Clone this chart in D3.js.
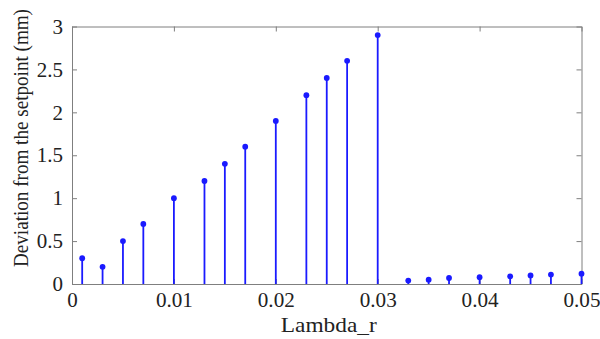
<!DOCTYPE html>
<html>
<head>
<meta charset="utf-8">
<script src="https://cdn.jsdelivr.net/npm/d3@7"></script>
</head>
<body style="margin:0">
<script>
// stem data
const lambdaR = [0.001, 0.003, 0.005, 0.007, 0.010, 0.013, 0.015, 0.017, 0.020, 0.023, 0.025,
                 0.027, 0.030, 0.033, 0.035, 0.037, 0.040, 0.043, 0.045, 0.047, 0.050];
const deviation = [0.3, 0.2, 0.5, 0.7, 1.0, 1.2, 1.4, 1.6, 1.9, 2.2, 2.4,
                   2.6, 2.9, 0.04, 0.05, 0.07, 0.08, 0.09, 0.10, 0.11, 0.12];
const xTicks = [0, 0.01, 0.02, 0.03, 0.04, 0.05];
const yTicks = [0, 0.5, 1, 1.5, 2, 2.5, 3];

const width = 600, height = 339;
const margin = { top: 26.5, right: 18.5, bottom: 55, left: 72 };
const w = width - margin.left - margin.right;
const h = height - margin.top - margin.bottom;
const fontName = "Liberation Serif";
const textColor = "#222";

const svg = d3.select("body").append("svg")
    .attr("width", width).attr("height", height);

const g = svg.append("g").attr("transform", "translate(" + margin.left + "," + margin.top + ")");

const x = d3.scaleLinear().domain([0, 0.05]).range([0, w]);
const y = d3.scaleLinear().domain([0, 3]).range([h, 0]);

const axisColor = "#7f7f7f";
const fmt = d => d === 0 ? "0" : String(d);

// bottom / left axes with inward ticks, plain ticks on top / right for the box
const xAxis = d3.axisBottom(x).tickValues(xTicks).tickFormat(fmt).tickSizeInner(-5).tickSizeOuter(0).tickPadding(8);
const yAxis = d3.axisLeft(y).tickValues(yTicks).tickFormat(fmt).tickSizeInner(-5).tickSizeOuter(0).tickPadding(9);
const xTop = d3.axisTop(x).tickValues(xTicks).tickFormat("").tickSizeInner(-5).tickSizeOuter(0);
const yRight = d3.axisRight(y).tickValues(yTicks).tickFormat("").tickSizeInner(-5).tickSizeOuter(0);

const gx = g.append("g").attr("transform", "translate(0," + h + ")").call(xAxis);
const gy = g.append("g").call(yAxis);
const gt = g.append("g").call(xTop);
const gr = g.append("g").attr("transform", "translate(" + w + ",0)").call(yRight);

[gx, gy, gt, gr].forEach(a => {
    a.attr("font-family", fontName).attr("font-size", 21);
    a.selectAll("path, line").attr("stroke", axisColor);
    a.selectAll("text").attr("fill", textColor);
});
gx.selectAll("text").attr("textLength", d => d === 0 ? null : 37).attr("lengthAdjust", "spacingAndGlyphs");

// stems
const blue = "#1a1aff";
const data = lambdaR.map((v, i) => ({ x: v, y: deviation[i] }));

g.selectAll(".stem").data(data).enter().append("line")
    .attr("class", "stem")
    .attr("x1", d => x(d.x)).attr("x2", d => x(d.x))
    .attr("y1", y(0)).attr("y2", d => y(d.y))
    .attr("stroke", blue).attr("stroke-width", 1.8);

g.selectAll(".dot").data(data).enter().append("circle")
    .attr("class", "dot")
    .attr("cx", d => x(d.x)).attr("cy", d => y(d.y))
    .attr("r", 2.9).attr("fill", blue);

// axis labels
svg.append("text")
    .attr("x", margin.left + w / 2 + 2).attr("y", 332)
    .attr("text-anchor", "middle")
    .attr("font-family", fontName).attr("font-size", 22).attr("fill", textColor)
    .attr("textLength", 96).attr("lengthAdjust", "spacingAndGlyphs")
    .text("Lambda_r");

svg.append("text")
    .attr("transform", "translate(28,138) rotate(-90)")
    .attr("text-anchor", "middle")
    .attr("font-family", fontName).attr("font-size", 20).attr("fill", textColor)
    .attr("textLength", 258).attr("lengthAdjust", "spacingAndGlyphs")
    .text("Deviation from the setpoint (mm)");
</script>
</body>
</html>
